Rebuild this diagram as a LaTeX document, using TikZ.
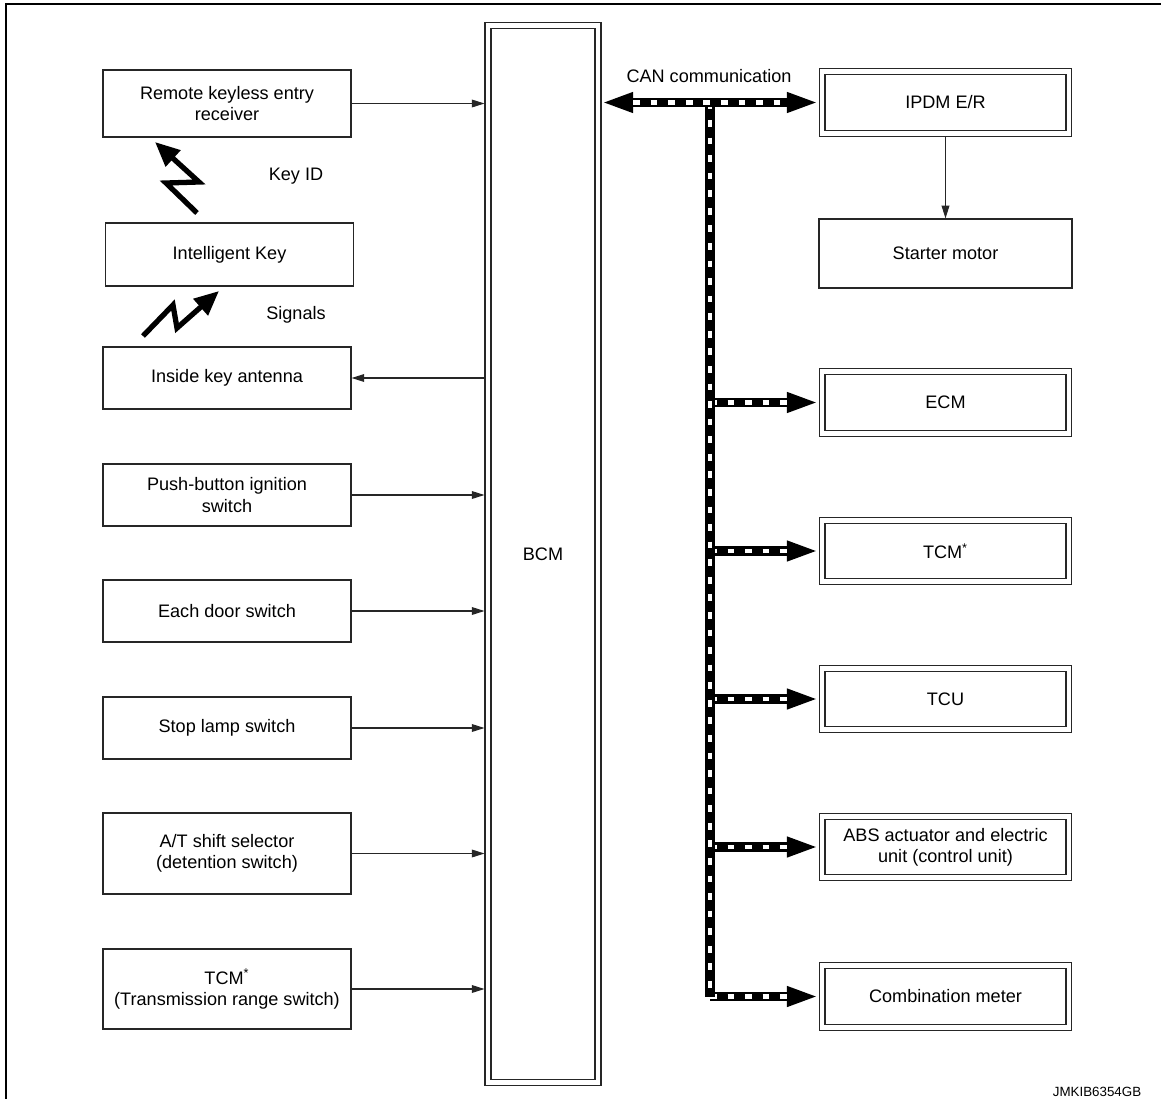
\documentclass[tikz,border=0pt]{standalone}
\usepackage{fontspec}
\setmainfont{Liberation Sans}
\usetikzlibrary{arrows.meta}

\begin{document}
\begin{tikzpicture}[x=0.02cm,y=-0.02cm,
  font=\fontsize{10.3}{12}\selectfont,
  unit/.style={draw=black!85, line width=0.7pt, align=center,
    minimum width=4.96cm, minimum height=1.24cm, inner sep=1pt},
  ecu/.style={draw=black!85, line width=0.6pt, double, double distance=2.8pt,
    align=center, minimum width=4.94cm, minimum height=1.23cm, outer sep=2pt},
  sig/.style={draw=black!85, line width=0.6pt, -{Triangle[length=7.2pt,width=4.4pt]}},
  canarrow/.style={line width=5.4pt, -{Triangle[length=18pt,width=10.5pt]},
    postaction={draw=white, line width=2.6pt, dash pattern=on 3.8pt off 6.2pt, -, shorten >=18pt}},
  canboth/.style={line width=5.4pt, {Triangle[length=18pt,width=10.5pt]}-{Triangle[length=18pt,width=10.5pt]},
    postaction={draw=white, line width=2.6pt, dash pattern=on 3.8pt off 6.2pt, -, shorten >=18pt, shorten <=18pt}},
  cantrunk/.style={line width=5.4pt,
    postaction={draw=white, line width=2.6pt, dash pattern=on 3.8pt off 6.2pt}},
  zig/.style={line width=3pt, -{Triangle[length=14pt,width=12pt]}}]
  \useasboundingbox (0,0) rectangle (1161,1099);

  % Frame
  \draw[line width=1.7pt] (6,1099) -- (6,4) -- (1161,4);

  % Inputs on the left
  \node[unit, minimum height=1.34cm] (rke) at (227,103.5) {Remote keyless entry\\receiver};
  \node[unit, minimum height=1.26cm] (ikey) at (229.5,254.5) {Intelligent Key};
  \node[unit, minimum height=1.24cm] (ant) at (227,378) {Inside key antenna};
  \node[unit] (push) at (227,495) {Push-button ignition\\switch};
  \node[unit] (door) at (227,611) {Each door switch};
  \node[unit] (stop) at (227,728) {Stop lamp switch};
  \node[unit, minimum height=1.62cm] (atsel) at (227,853.5) {A/T shift selector\\(detention switch)};
  \node[unit, minimum height=1.6cm] (tcmr) at (227,989) {TCM\textsuperscript{*}\\(Transmission range switch)};

  % BCM
  \node[ecu, minimum width=2.2cm, minimum height=21.16cm] (bcm) at (543,554) {BCM};

  % Units on the right
  \node[ecu] (ipdm) at (945.5,102.5) {IPDM E/R};
  \node[unit, minimum width=5.06cm, minimum height=1.38cm] (start) at (945.5,253.5) {Starter motor};
  \node[ecu] (ecm) at (945.5,402.5) {ECM};
  \node[ecu] (tcm) at (945.5,551) {TCM\textsuperscript{*}};
  \node[ecu] (tcu) at (945.5,699) {TCU};
  \node[ecu] (abs) at (945.5,847) {ABS actuator and electric\\unit (control unit)};
  \node[ecu] (cmb) at (945.5,996.5) {Combination meter};

  % Signal lines
  \draw[sig] (rke.east) -- (rke.east -| bcm.west);
  \draw[sig] (ant.east -| bcm.west) -- (ant.east);
  \foreach \n in {push,door,stop,atsel,tcmr}
    \draw[sig] (\n.east) -- (\n.east -| bcm.west);
  \draw[sig] (ipdm.south) -- (start.north);

  % CAN communication
  \coordinate (can) at (710,102.5);
  \foreach \n in {ecm,tcm,tcu,abs,cmb}
    \draw[canarrow] (can |- \n.west) -- (\n.west);
  \draw[cantrunk] (can) -- (can |- cmb.west);
  \draw[canboth] (ipdm.west -| bcm.east) -- (ipdm.west);
  \node (canlbl) at (709,76) {CAN communication};

  % Radio links
  \draw[zig] (197,213) -- (166,183) -- (199,182) -- (155,142);
  \node (keyid) at (296,176) {Key ID};
  \draw[zig] (143,336) -- (173,305) -- (177,328) -- (219,291);
  \node (sigs) at (296,315) {Signals};

  \node[font=\fontsize{7.6}{9}\selectfont] (code) at (1097,1092) {JMKIB6354GB};
\end{tikzpicture}
\end{document}
